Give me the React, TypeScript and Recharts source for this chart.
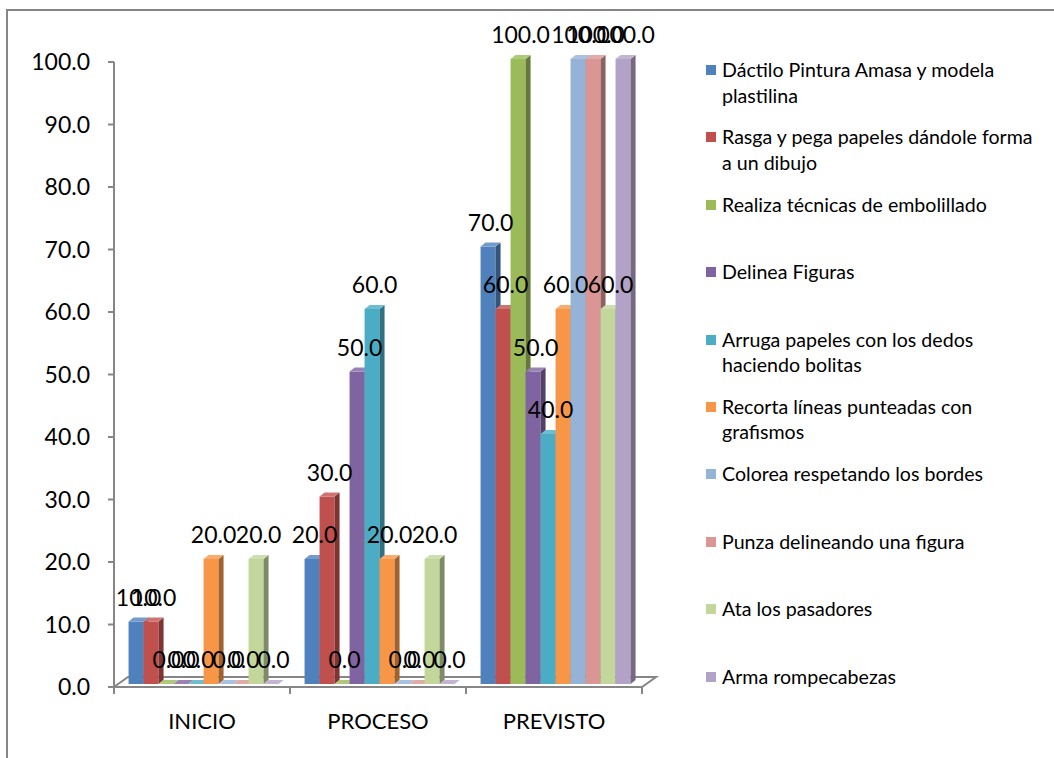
import React from "react";
import { BarChart, Bar, XAxis, YAxis, LabelList } from "recharts";

const CATEGORIES = ["INICIO", "PROCESO", "PREVISTO"];

const SERIES_NAMES = [
  "Dáctilo Pintura Amasa y modela plastilina",
  "Rasga y pega papeles dándole forma a un dibujo",
  "Realiza técnicas de embolillado",
  "Delinea Figuras",
  "Arruga papeles con los dedos haciendo bolitas",
  "Recorta líneas punteadas con grafismos",
  "Colorea respetando los bordes",
  "Punza delineando una figura",
  "Ata los pasadores",
  "Arma rompecabezas",
];

const SERIES_COLORS = [
  "#4F81BD",
  "#C0504D",
  "#9BBB59",
  "#8064A2",
  "#4BACC6",
  "#F79646",
  "#95B3D7",
  "#D99694",
  "#C3D69B",
  "#B3A2C7",
];

// one value per series, in SERIES_NAMES order
const INICIO_VALUES = [10, 10, 0, 0, 0, 20, 0, 0, 20, 0];
const PROCESO_VALUES = [20, 30, 0, 50, 60, 20, 0, 0, 20, 0];
const PREVISTO_VALUES = [70, 60, 100, 50, 40, 60, 100, 100, 60, 100];

const Y_TICKS = [0, 10, 20, 30, 40, 50, 60, 70, 80, 90, 100];

const rows = [INICIO_VALUES, PROCESO_VALUES, PREVISTO_VALUES].map((vals, ci) => {
  const row: Record<string, string | number> = { name: CATEGORIES[ci] };
  vals.forEach((v, si) => {
    row[`s${si}`] = v;
  });
  return row;
});

/* ─── layout ─────────────────────────────────────────────── */

const W = 1054;
const H = 758;
const MARGIN = { top: 62, right: 412, bottom: 31, left: 54 };
const Y_AXIS_W = 60;
const X_AXIS_H = 40;
const PLOT_LEFT = MARGIN.left + Y_AXIS_W;
const PLOT_RIGHT = W - MARGIN.right;
const PLOT_BOTTOM = H - MARGIN.bottom - X_AXIS_H;

const FONT = "Lato, 'Open Sans', sans-serif";
const AXIS_GRAY = "#868686";

// 3D extrusion of the columns
const DX = 5;
const DY = 4;
const SHIFT_X = 4;
const SHIFT_Y = 3;
const FLOOR_DEPTH_X = 14;
const FLOOR_DEPTH_Y = 10;

function shade(hex: string, f: number) {
  const n = parseInt(hex.slice(1), 16);
  let r = n >> 16;
  let g = (n >> 8) & 255;
  let b = n & 255;
  if (f < 0) {
    r *= 1 + f;
    g *= 1 + f;
    b *= 1 + f;
  } else {
    r += (255 - r) * f;
    g += (255 - g) * f;
    b += (255 - b) * f;
  }
  return `rgb(${Math.round(r)},${Math.round(g)},${Math.round(b)})`;
}

function Column3D(props: any) {
  const { x, y, width, height, color } = props;
  const fx = x + SHIFT_X;
  const fy = y - SHIFT_Y;
  const w = width;
  const h = Math.max(height || 0, 0);
  const top = `${fx},${fy} ${fx + DX},${fy - DY} ${fx + w + DX},${fy - DY} ${fx + w},${fy}`;
  const side = `${fx + w},${fy} ${fx + w + DX},${fy - DY} ${fx + w + DX},${fy + h - DY} ${fx + w},${fy + h}`;
  return (
    <g>
      {h > 0 && <rect x={fx} y={fy} width={w} height={h} fill={color} />}
      {h > 0 && <polygon points={side} fill={shade(color, -0.35)} />}
      <polygon points={top} fill={shade(color, 0.2)} />
    </g>
  );
}

function ValueLabel(props: any) {
  const vb = props.viewBox ?? props;
  const x = props.x ?? vb.x;
  const y = props.y ?? vb.y;
  const width = props.width ?? vb.width;
  const cx = x + SHIFT_X + width / 2 + DX / 2;
  return (
    <text
      x={cx}
      y={y - SHIFT_Y - 16}
      textAnchor="middle"
      fontSize={23}
      fontFamily={FONT}
      fill="#000"
    >
      {Number(props.value).toFixed(1)}
    </text>
  );
}

function Floor() {
  const step = (PLOT_RIGHT - PLOT_LEFT) / CATEGORIES.length;
  const back = PLOT_BOTTOM - FLOOR_DEPTH_Y;
  return (
    <g stroke={AXIS_GRAY} strokeWidth={2} fill="none">
      <polygon
        points={`${PLOT_LEFT},${PLOT_BOTTOM} ${PLOT_RIGHT},${PLOT_BOTTOM} ${PLOT_RIGHT + FLOOR_DEPTH_X},${back} ${PLOT_LEFT + FLOOR_DEPTH_X},${back}`}
        fill="#fff"
      />
      {Array.from({ length: CATEGORIES.length + 1 }, (_, i) => (
        <line
          key={i}
          x1={PLOT_LEFT + step * i}
          x2={PLOT_LEFT + step * i}
          y1={PLOT_BOTTOM}
          y2={PLOT_BOTTOM + 7}
        />
      ))}
    </g>
  );
}

function Legend() {
  return (
    <div style={{ position: "absolute", left: 706, top: 57, fontFamily: FONT }}>
      {SERIES_NAMES.map((name, i) => (
        <div key={name} style={{ display: "flex", height: 67.4, width: 336 }}>
          <span
            style={{
              width: 10,
              height: 10,
              marginTop: 8,
              marginRight: 6,
              flexShrink: 0,
              background: SERIES_COLORS[i],
            }}
          />
          <span style={{ fontSize: 19.6, lineHeight: "25.5px", color: "#000" }}>{name}</span>
        </div>
      ))}
    </div>
  );
}

export default function App() {
  return (
    <div
      style={{
        position: "fixed",
        left: 0,
        top: 0,
        width: W,
        height: H,
        overflow: "hidden",
        background: "#fff",
      }}
    >
      <div
        style={{
          position: "absolute",
          left: 6,
          top: 9,
          width: 2000,
          height: 2000,
          borderLeft: `2px solid ${AXIS_GRAY}`,
          borderTop: `2px solid ${AXIS_GRAY}`,
        }}
      />
      <div style={{ position: "absolute", left: 0, top: 0 }}>
        <BarChart
          width={W}
          height={H}
          data={rows}
          margin={MARGIN}
          barGap={0}
          barCategoryGap="6%"
        >
          <Floor />
          <XAxis
            dataKey="name"
            height={X_AXIS_H}
            axisLine={false}
            tickLine={false}
            tickSize={0}
            tickMargin={26}
            tick={{ fontSize: 22, fontFamily: FONT, fill: "#000" }}
          />
          <YAxis
            width={Y_AXIS_W}
            domain={[0, 100]}
            ticks={Y_TICKS}
            interval={0}
            tickFormatter={(v: number) => v.toFixed(1)}
            axisLine={{ stroke: AXIS_GRAY, strokeWidth: 2 }}
            tickLine={{ stroke: AXIS_GRAY, strokeWidth: 2 }}
            tickSize={6}
            tickMargin={18}
            tick={{ fontSize: 23, fontFamily: FONT, fill: "#000" }}
          />
          {SERIES_NAMES.map((name, i) => (
            <Bar
              key={name}
              dataKey={`s${i}`}
              name={name}
              fill={SERIES_COLORS[i]}
              isAnimationActive={false}
              shape={(p: any) => <Column3D {...p} color={SERIES_COLORS[i]} />}
            >
              <LabelList dataKey={`s${i}`} content={ValueLabel} />
            </Bar>
          ))}
        </BarChart>
      </div>
      <Legend />
    </div>
  );
}
